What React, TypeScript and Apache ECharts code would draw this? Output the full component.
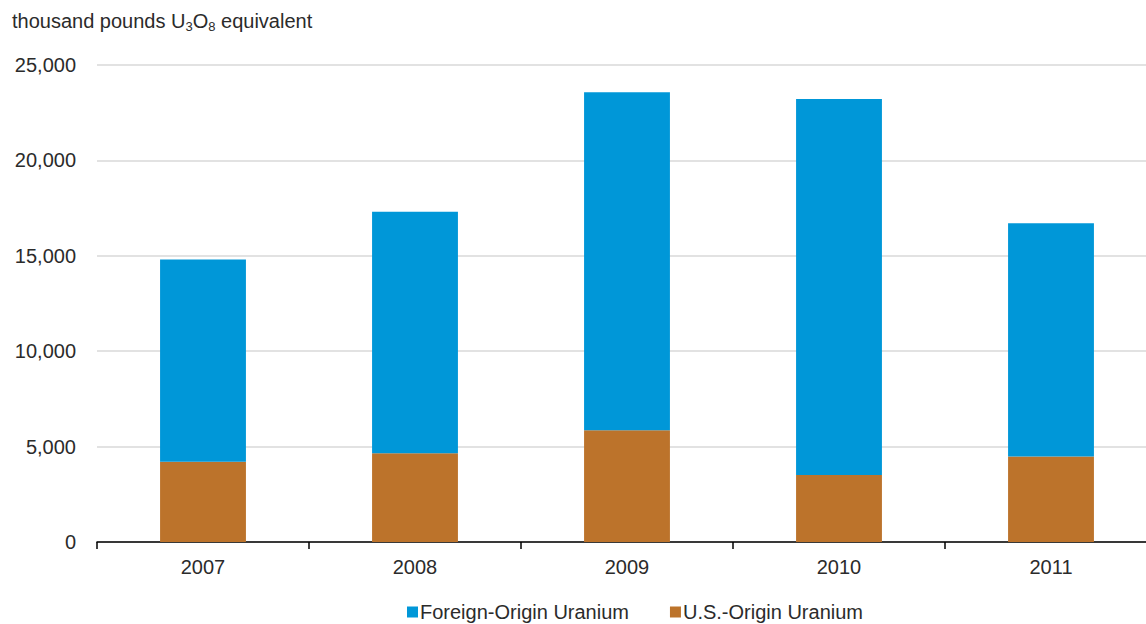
import React, { useEffect, useRef } from "react";
import * as echarts from "echarts";

const years = ["2007", "2008", "2009", "2010", "2011"];
const usOrigin = [4210, 4650, 5860, 3510, 4480];
const foreignOrigin = [10590, 12660, 17710, 19710, 12220];
const seriesNames = ["Foreign-Origin Uranium", "U.S.-Origin Uranium"];

const FONT = "'Liberation Sans', Arial, sans-serif";
const TEXT = "#2b2b2b";

export default function App() {
  const ref = useRef<HTMLDivElement>(null);
  useEffect(() => {
    document.body.style.overflow = "hidden";
    if (!ref.current) return;
    const chart = echarts.init(ref.current, null, { renderer: "svg" });
    chart.setOption({
      animation: false,
      backgroundColor: "#ffffff",
      textStyle: { fontFamily: FONT },
      graphic: [
        {
          type: "text",
          left: 12,
          top: 8,
          style: {
            text: "{a|thousand pounds U}{s|3}{a|O}{s|8}{a| equivalent}",
            fontFamily: FONT,
            rich: {
              a: { fontSize: 20, fill: TEXT, fontFamily: FONT, lineHeight: 27 },
              s: { fontSize: 13, fill: TEXT, fontFamily: FONT, lineHeight: 13, padding: [12, 0, 0, 0] },
            },
          },
        },
      ],
      legend: {
        data: seriesNames,
        left: 407,
        top: 602,
        padding: 0,
        icon: "rect",
        itemWidth: 11,
        itemHeight: 11,
        itemGap: 41,
        textStyle: { fontSize: 20, color: TEXT, fontFamily: FONT, padding: [0, 0, 0, -3] },
      },
      grid: { left: 97, right: 3, top: 65, bottom: 82, containLabel: false },
      xAxis: {
        type: "category",
        data: years,
        axisLine: { show: true, lineStyle: { color: "#000000", width: 1.5 } },
        axisTick: { show: true, length: 7, alignWithLabel: false, lineStyle: { color: "#000000", width: 1.5 } },
        axisLabel: { fontSize: 20, color: TEXT, margin: 15, fontFamily: FONT },
        splitLine: { show: false },
      },
      yAxis: {
        type: "value",
        min: 0,
        max: 25000,
        interval: 5000,
        axisLine: { show: false },
        axisTick: { show: false },
        axisLabel: {
          fontSize: 20,
          color: TEXT,
          margin: 21,
          fontFamily: FONT,
          formatter: (v: number) => v.toLocaleString("en-US"),
        },
        splitLine: { show: true, lineStyle: { color: "#d9d9d9", width: 1.5 } },
      },
      series: [
        {
          name: seriesNames[1],
          type: "bar",
          stack: "total",
          data: usOrigin,
          barWidth: "40.5%",
          itemStyle: { color: "#bc732b" },
        },
        {
          name: seriesNames[0],
          type: "bar",
          stack: "total",
          data: foreignOrigin,
          barWidth: "40.5%",
          itemStyle: { color: "#0097d8" },
        },
      ],
    });
    return () => chart.dispose();
  }, []);
  return (
    <div
      ref={ref}
      style={{ position: "fixed", left: 0, top: 0, width: 1160, height: 624, background: "#fff" }}
    />
  );
}
